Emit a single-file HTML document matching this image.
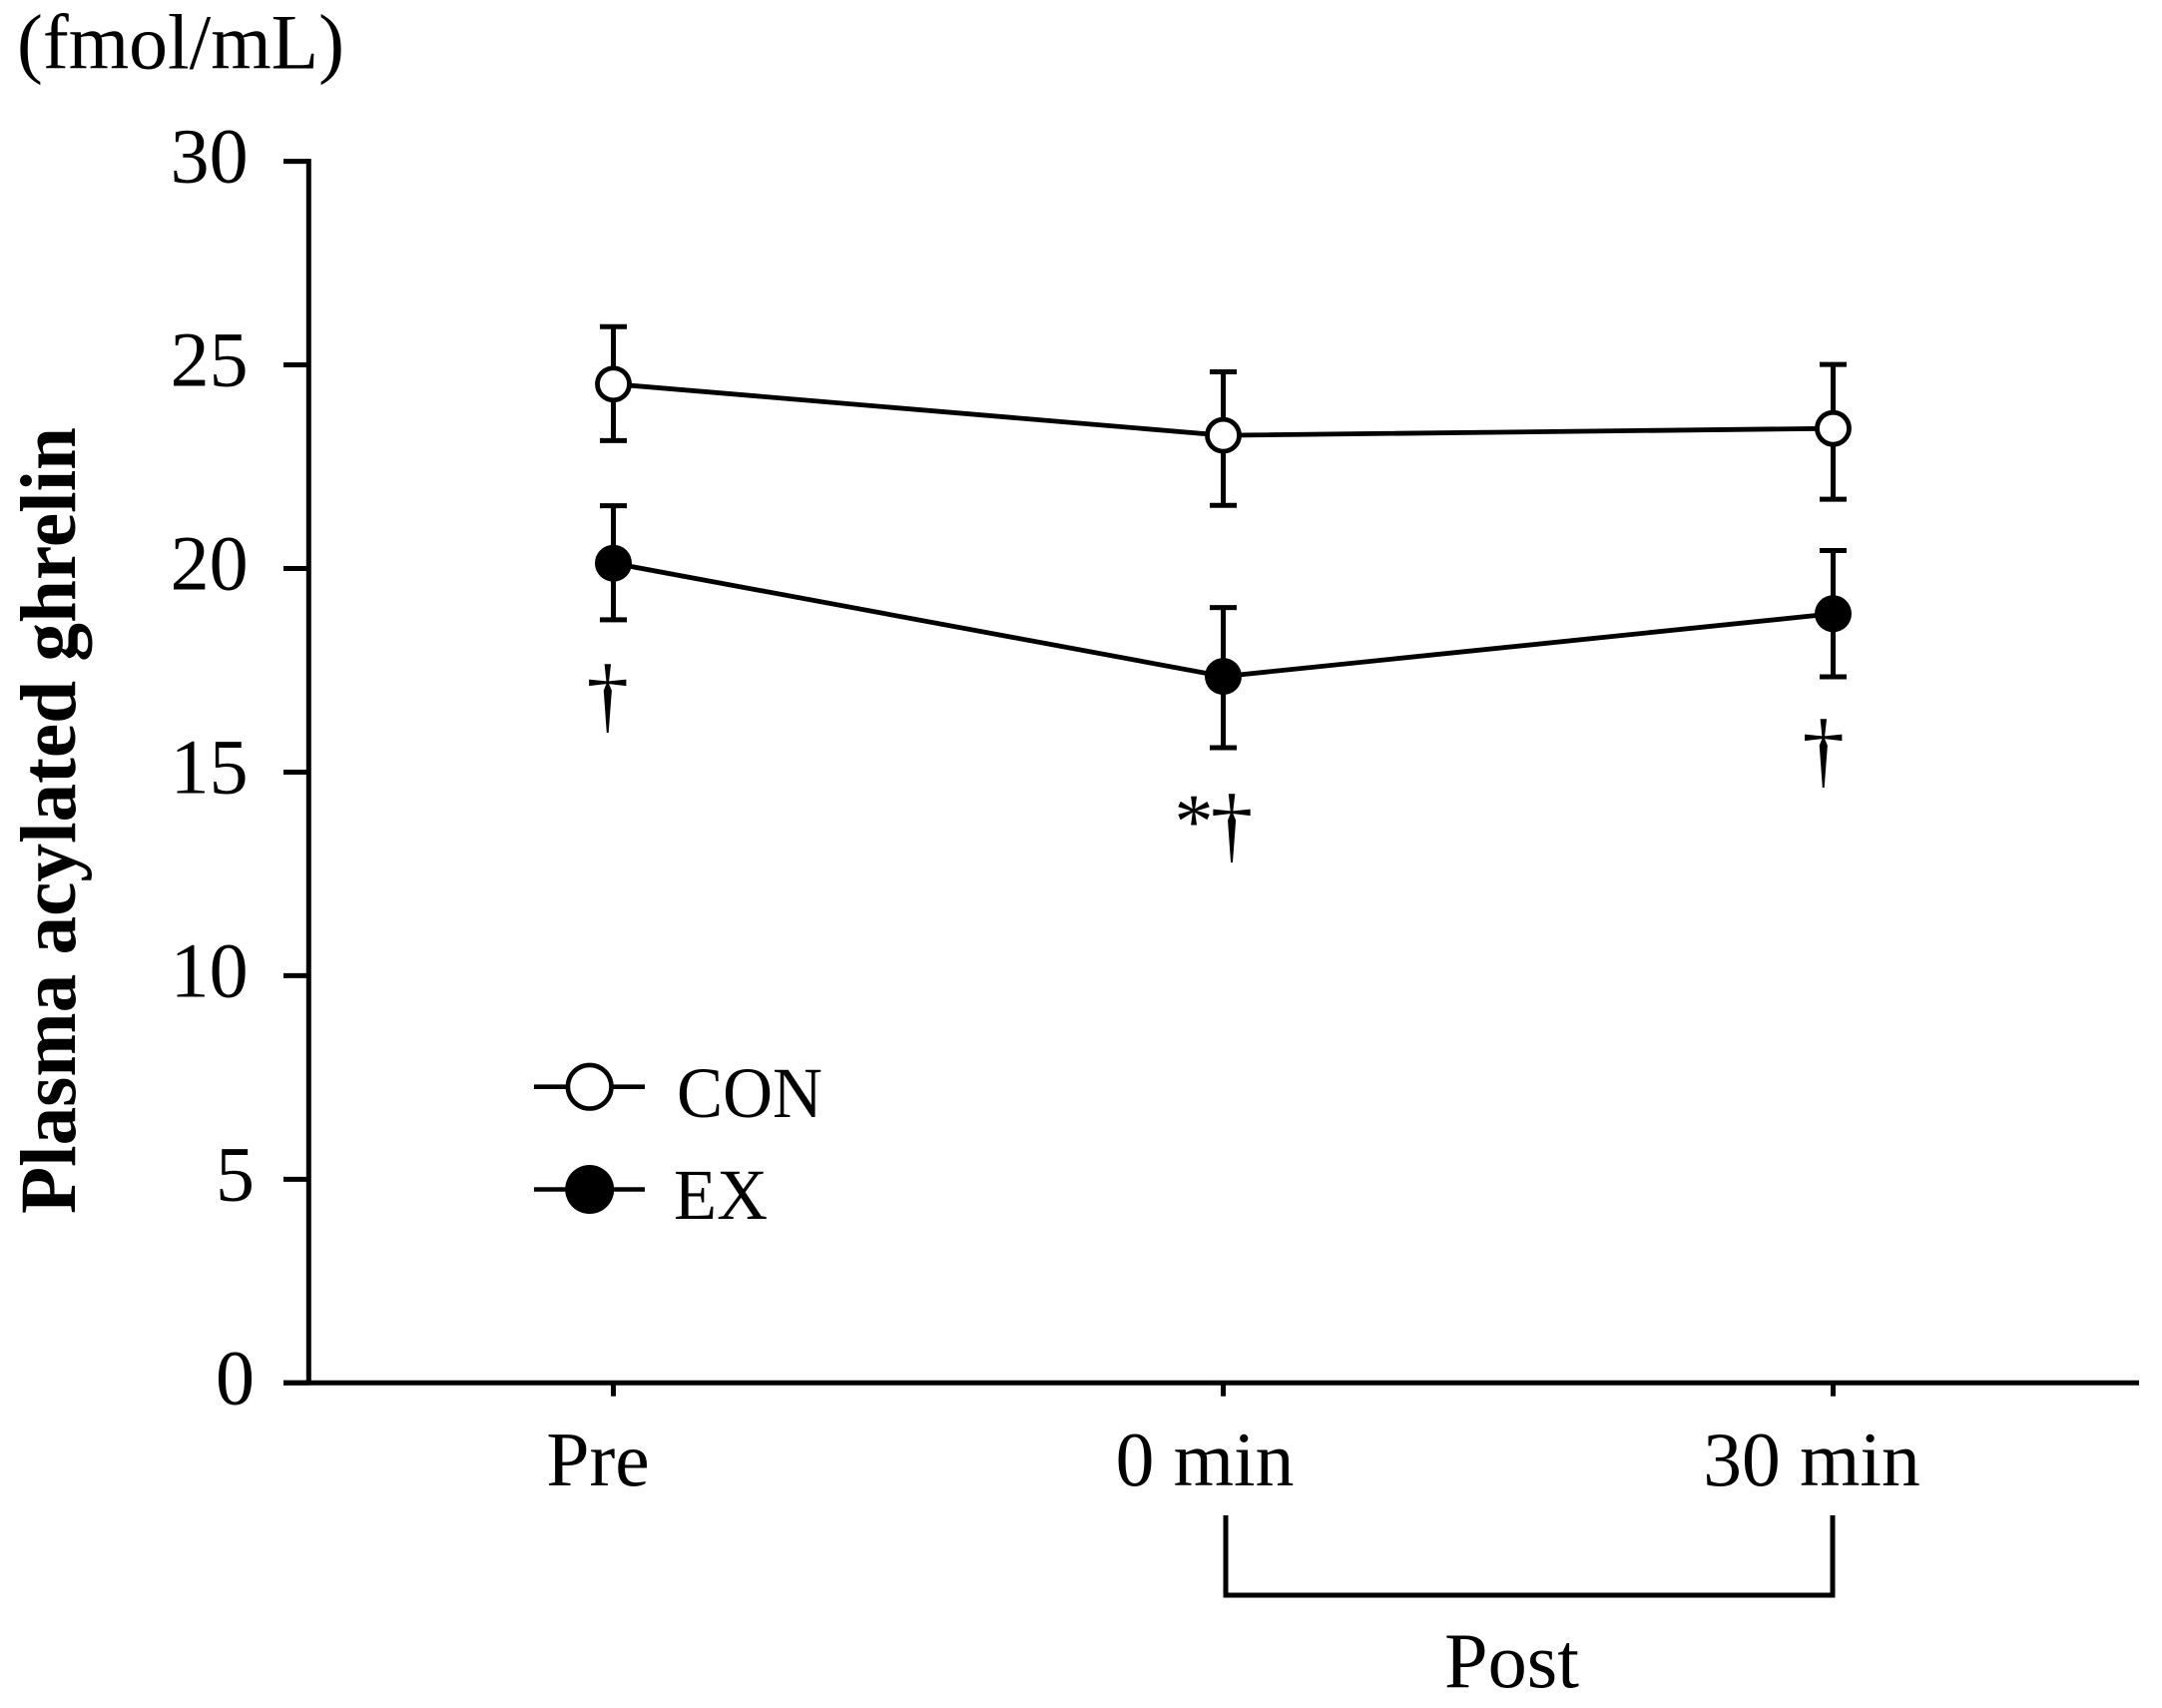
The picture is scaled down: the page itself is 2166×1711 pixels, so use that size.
<!DOCTYPE html>
<html lang="en">
<head>
<meta charset="utf-8">
<title>Plasma acylated ghrelin</title>
<style>
  html, body { margin: 0; padding: 0; background: #fff; }
  svg { display: block; }
  text { font-family: "Liberation Serif", "Times New Roman", serif; fill: #000; }
</style>
</head>
<body>
<svg id="chart" xmlns="http://www.w3.org/2000/svg" width="2166" height="1711" viewBox="0 0 2166 1711">
  <rect x="0" y="0" width="2166" height="1711" fill="#fff"/>
  <text x="17" y="68.6" font-size="78" textLength="328" lengthAdjust="spacingAndGlyphs">(fmol/mL)</text>
  <text transform="translate(75 1216) rotate(-90)" font-size="79" font-weight="bold" textLength="788" lengthAdjust="spacingAndGlyphs">Plasma acylated ghrelin</text>
  <g id="plot"></g>
  <g>
    <path d="M1228 1518 V1598 H1836 V1518" fill="none" stroke="#000" stroke-width="5"/>
    <text x="1447" y="1690" font-size="78" textLength="135" lengthAdjust="spacingAndGlyphs">Post</text>
  </g>
  <g>
    <g>
      <line x1="535" x2="646" y1="1088.7" y2="1088.7" stroke="#000" stroke-width="4.6"/>
      <circle cx="590.7" cy="1088.7" r="21.8" fill="#fff" stroke="#000" stroke-width="4.6"/>
      <text x="678" y="1119" font-size="72" textLength="146" lengthAdjust="spacingAndGlyphs">CON</text>
    </g>
    <g>
      <line x1="535" x2="646" y1="1191.5" y2="1191.5" stroke="#000" stroke-width="4.6"/>
      <circle cx="590.7" cy="1191.5" r="24.5" fill="#000"/>
      <text x="675" y="1221" font-size="72" textLength="94" lengthAdjust="spacingAndGlyphs">EX</text>
    </g>
  </g>
  <g>
    <text x="608.8" y="724" font-size="85" text-anchor="middle">†</text>
    <text x="1196" y="849" font-size="78" text-anchor="middle">*</text>
    <text x="1234" y="854" font-size="85" text-anchor="middle">†</text>
    <text x="1826.8" y="779" font-size="85" text-anchor="middle">†</text>
  </g>
</svg>
<script>
const categories = ['Pre', '0 min', '30 min'];
const yTicks = [0, 5, 10, 15, 20, 25, 30];
const conMeans = [24.53, 23.27, 23.44];
const conUpper = [25.94, 24.83, 25.01];
const conLower = [23.14, 21.55, 21.70];
const exMeans = [20.13, 17.35, 18.89];
const exUpper = [21.54, 19.04, 20.44];
const exLower = [18.74, 15.60, 17.34];

const SVG_NS = 'http://www.w3.org/2000/svg';
const plot = document.getElementById('plot');
const yScale = function (v) { return 1385.3 - v * 40.79; };
const xScale = function (i) { return 614.5 + i * 611; };

function make(tag, attrs, text) {
  const node = document.createElementNS(SVG_NS, tag);
  for (const key in attrs) node.setAttribute(key, attrs[key]);
  if (text !== undefined) node.textContent = text;
  plot.appendChild(node);
  return node;
}

let el;

el = make('line', { x1: 309.3, x2: 309.3, y1: yScale(30) - 2.5, y2: yScale(0), stroke: '#000', 'stroke-width': 5 });



el = make('line', { x1: 284, x2: 2143, y1: yScale(0), y2: yScale(0), stroke: '#000', 'stroke-width': 5 });



yTicks.forEach(function (v) {
  const tick = make('line', { x1: 284, x2: 309.3, y1: yScale(v), y2: yScale(v), stroke: '#000', 'stroke-width': 5 });
  
  
  const label = make('text', { x: v < 10 ? 255 : 248.6, y: yScale(v) + 21, 'font-size': 78, 'text-anchor': 'end' }, String(v));
  
  
});

categories.forEach(function (name, i) {
  const tick = make('line', { x1: xScale(i), x2: xScale(i), y1: yScale(0), y2: 1398.7, stroke: '#000', 'stroke-width': 5 });
  
  
  const label = make('text', { x: xScale(i) - 15.5 - 3 * i, y: 1488, 'font-size': 77.5, 'text-anchor': 'middle' }, name);
  
  
});

function drawSeries(key, means, upper, lower, filled) {
  const points = means.map(function (v, i) { return xScale(i) + ',' + yScale(v); }).join(' ');
  const line = make('polyline', { points: points, fill: 'none', stroke: '#000', 'stroke-width': 4.8 });
  
  

  means.forEach(function (v, i) {
    const x = xScale(i);
    const bar = make('line', { x1: x, x2: x, y1: yScale(upper[i]), y2: yScale(lower[i]), stroke: '#000', 'stroke-width': 5 });
    
    

    const capTop = make('line', { x1: x - 13.5, x2: x + 13.5, y1: yScale(upper[i]), y2: yScale(upper[i]), stroke: '#000', 'stroke-width': 5 });
    
    

    const capBottom = make('line', { x1: x - 13.5, x2: x + 13.5, y1: yScale(lower[i]), y2: yScale(lower[i]), stroke: '#000', 'stroke-width': 5 });
    
    

    const marker = filled
      ? make('circle', { cx: x, cy: yScale(v), r: 18.5, fill: '#000' })
      : make('circle', { cx: x, cy: yScale(v), r: 16, fill: '#fff', stroke: '#000', 'stroke-width': 4.8 });
    
    
  });
}

drawSeries('con', conMeans, conUpper, conLower, false);
drawSeries('ex', exMeans, exUpper, exLower, true);
</script>
</body>
</html>
